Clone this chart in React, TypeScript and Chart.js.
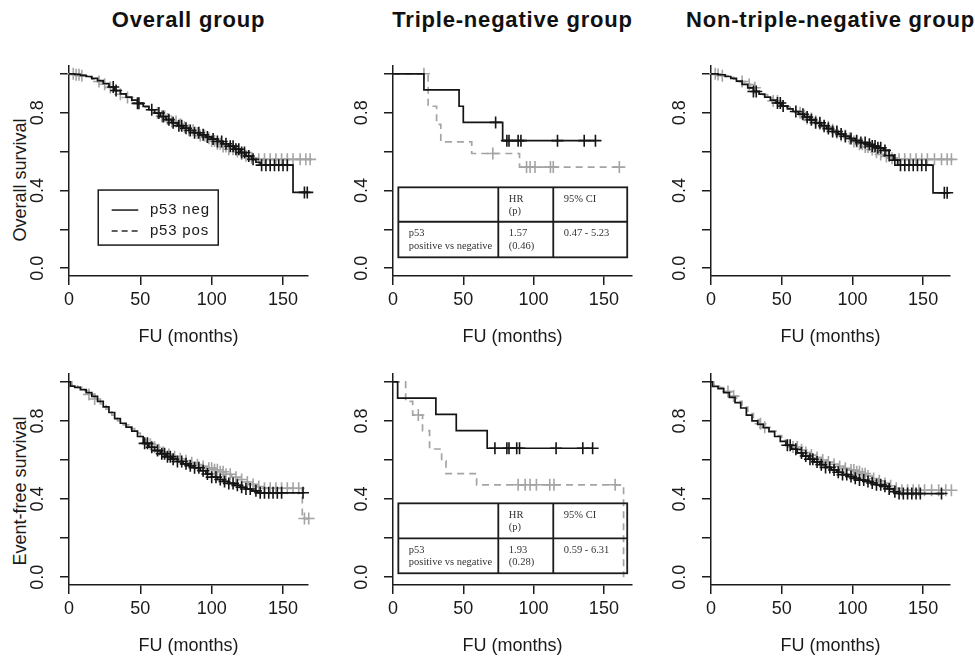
import React, { useEffect, useRef } from "react";
import { Chart, registerables } from "chart.js";

Chart.register(...registerables);

// ---------------- text ----------------
const COLUMN_TITLES = ["Overall group", "Triple-negative group", "Non-triple-negative group"];
const ROW_TITLES = ["Overall survival", "Event-free survival"];
const X_TITLE = "FU (months)";
const LEGEND_LABELS = ["p53 neg", "p53 pos"];
const TABLE_HEAD_HR = ["HR", "(p)"];
const TABLE_HEAD_CI = "95% CI";
const TABLE_ROW_LABEL = ["p53", "positive vs negative"];
const TN_OS_HR = ["1.57", "(0.46)"];
const TN_OS_CI = "0.47 - 5.23";
const TN_EFS_HR = ["1.93", "(0.28)"];
const TN_EFS_CI = "0.59 - 6.31";

// ---------------- axis ticks ----------------
const X_TICKS = [0, 50, 100, 150];
const Y_TICKS = [0, 0.2, 0.4, 0.6, 0.8, 1.0];
const Y_TICK_LABELS = ["0.0", "", "0.4", "", "0.8", ""];

// ---------------- data: Overall group, overall survival ----------------
const OS_ALL_NEG_T = [0, 4, 8, 12, 16, 20, 24, 28, 32, 36, 40, 44, 48, 52, 56, 60, 64, 68, 72, 76, 80, 84, 88, 92, 96, 100, 104, 108, 112, 116, 120, 124, 128, 131, 134, 157, 167];
const OS_ALL_NEG_S = [1, 0.997, 0.992, 0.986, 0.976, 0.965, 0.95, 0.932, 0.914, 0.897, 0.88, 0.864, 0.848, 0.832, 0.815, 0.798, 0.78, 0.764, 0.748, 0.733, 0.72, 0.708, 0.697, 0.686, 0.675, 0.664, 0.652, 0.64, 0.627, 0.612, 0.595, 0.577, 0.56, 0.545, 0.53, 0.39, 0.39];
const OS_ALL_NEG_CENS = [31, 33, 48, 49, 58, 63, 66, 70, 73, 77, 79, 82, 85, 88, 91, 94, 97, 101, 104, 107, 110, 113, 115, 117, 119, 121, 123, 126, 129, 135, 138, 141, 144, 147, 150, 153, 165, 167];
const OS_ALL_POS_T = [0, 4, 8, 12, 16, 20, 24, 28, 32, 36, 40, 44, 48, 52, 56, 60, 64, 68, 72, 76, 80, 84, 88, 92, 96, 100, 104, 108, 112, 116, 120, 124, 128, 132, 169];
const OS_ALL_POS_S = [1, 0.995, 0.99, 0.982, 0.972, 0.96, 0.946, 0.93, 0.912, 0.895, 0.878, 0.862, 0.846, 0.83, 0.814, 0.798, 0.782, 0.768, 0.754, 0.74, 0.725, 0.71, 0.696, 0.682, 0.668, 0.654, 0.64, 0.626, 0.612, 0.6, 0.588, 0.578, 0.568, 0.56, 0.56];
const OS_ALL_POS_CENS = [3, 5, 7, 9, 21, 25, 29, 36, 41, 62, 65, 67, 69, 72, 75, 78, 81, 84, 87, 90, 92, 95, 98, 100, 102, 104, 106, 108, 110, 112, 115, 118, 121, 124, 128, 133, 137, 141, 145, 149, 153, 157, 162, 166, 169];

// ---------------- data: Triple-negative group, overall survival ----------------
const OS_TN_NEG_T = [0, 22, 47, 50, 78, 144];
const OS_TN_NEG_S = [1, 0.917, 0.833, 0.75, 0.656, 0.656];
const OS_TN_NEG_CENS = [73, 81, 82.5, 89, 91, 117, 136, 144];
const OS_TN_POS_T = [0, 25, 31, 34, 56, 90, 161];
const OS_TN_POS_S = [1, 0.833, 0.74, 0.65, 0.59, 0.52, 0.52];
const OS_TN_POS_CENS = [22, 71, 95, 97.5, 101, 112, 114, 161];

// ---------------- data: Non-triple-negative group, overall survival ----------------
const OS_NTN_NEG_T = [0, 5, 10, 14, 18, 22, 26, 30, 34, 38, 42, 46, 50, 54, 58, 62, 66, 70, 74, 78, 82, 86, 90, 94, 98, 102, 106, 110, 114, 118, 122, 126, 129, 132, 157, 168];
const OS_NTN_NEG_S = [1, 0.995, 0.986, 0.976, 0.962, 0.946, 0.928, 0.909, 0.895, 0.88, 0.865, 0.85, 0.834, 0.82, 0.806, 0.792, 0.778, 0.763, 0.748, 0.733, 0.718, 0.703, 0.69, 0.678, 0.667, 0.656, 0.646, 0.637, 0.628, 0.619, 0.606, 0.58, 0.556, 0.53, 0.388, 0.388];
const OS_NTN_NEG_CENS = [30, 32, 47, 49, 51, 60, 65, 68, 71, 74, 77, 80, 83, 86, 89, 92, 95, 99, 103, 106, 109, 112, 114, 116, 118, 120, 123, 126, 130, 134, 137, 140, 143, 146, 149, 152, 165, 167];
const OS_NTN_POS_T = [0, 4, 8, 12, 16, 20, 24, 28, 32, 36, 40, 44, 48, 52, 56, 60, 64, 68, 72, 76, 80, 84, 88, 92, 96, 100, 104, 108, 112, 116, 120, 124, 128, 132, 170];
const OS_NTN_POS_S = [1, 0.996, 0.99, 0.982, 0.972, 0.96, 0.945, 0.928, 0.91, 0.893, 0.876, 0.86, 0.845, 0.83, 0.815, 0.8, 0.785, 0.77, 0.756, 0.742, 0.727, 0.712, 0.697, 0.682, 0.667, 0.652, 0.638, 0.624, 0.61, 0.597, 0.585, 0.575, 0.566, 0.56, 0.56];
const OS_NTN_POS_CENS = [3, 5, 8, 22, 27, 31, 44, 47, 63, 66, 68, 71, 74, 77, 80, 83, 86, 89, 92, 95, 98, 101, 103, 105, 107, 109, 111, 114, 117, 120, 124, 128, 133, 137, 141, 145, 149, 153, 158, 163, 167, 170];

// ---------------- data: Overall group, event-free survival ----------------
const EFS_ALL_NEG_T = [0, 1, 4, 8, 12, 16, 20, 24, 28, 32, 36, 40, 44, 48, 52, 56, 60, 64, 68, 72, 76, 80, 84, 88, 92, 96, 100, 104, 108, 112, 116, 120, 124, 128, 132, 165];
const EFS_ALL_NEG_S = [1, 0.978, 0.972, 0.96, 0.945, 0.925, 0.9, 0.872, 0.843, 0.812, 0.788, 0.768, 0.748, 0.72, 0.685, 0.665, 0.648, 0.632, 0.617, 0.604, 0.592, 0.58, 0.57, 0.56, 0.545, 0.528, 0.512, 0.5, 0.49, 0.48, 0.47, 0.46, 0.451, 0.442, 0.432, 0.432];
const EFS_ALL_NEG_CENS = [53, 55, 58, 62, 65, 67, 69, 71, 73, 76, 79, 82, 85, 88, 91, 94, 97, 100, 103, 106, 109, 112, 115, 118, 121, 124, 127, 131, 134, 137, 140, 143, 146, 149, 164];
const EFS_ALL_POS_T = [0, 2, 6, 10, 14, 18, 22, 26, 30, 34, 38, 42, 46, 50, 54, 58, 62, 66, 70, 74, 78, 82, 86, 90, 94, 98, 102, 106, 110, 114, 118, 122, 126, 130, 134, 163.5, 168];
const EFS_ALL_POS_S = [1, 0.985, 0.972, 0.955, 0.935, 0.912, 0.887, 0.86, 0.83, 0.8, 0.78, 0.76, 0.737, 0.705, 0.68, 0.665, 0.652, 0.64, 0.628, 0.617, 0.606, 0.596, 0.586, 0.576, 0.567, 0.558, 0.55, 0.54, 0.527, 0.512, 0.5, 0.487, 0.475, 0.464, 0.455, 0.3, 0.3];
const EFS_ALL_POS_CENS = [14, 18, 57, 60, 63, 66, 70, 74, 78, 82, 86, 90, 94, 98, 100, 102, 104, 106, 108, 110, 113, 117, 121, 125, 129, 133, 137, 141, 145, 149, 153, 157, 161, 165, 168];

// ---------------- data: Triple-negative group, event-free survival ----------------
const EFS_TN_NEG_T = [0, 3.3, 30.5, 45, 67, 142];
const EFS_TN_NEG_S = [1, 0.917, 0.833, 0.75, 0.66, 0.66];
const EFS_TN_NEG_CENS = [72.5, 81, 82.5, 88, 90, 116, 135, 142];
const EFS_TN_POS_T = [0, 9, 14, 21, 26, 34.6, 37.7, 59.5, 164];
const EFS_TN_POS_S = [1, 0.9, 0.83, 0.75, 0.656, 0.595, 0.53, 0.473, 0];
const EFS_TN_POS_CENS = [18, 89, 94, 97.5, 102, 111.5, 114.5, 158];

// ---------------- data: Non-triple-negative group, event-free survival ----------------
const EFS_NTN_NEG_T = [0, 1, 5, 9, 13, 17, 21, 25, 29, 33, 37, 41, 45, 49, 53, 57, 61, 65, 69, 73, 77, 81, 85, 89, 93, 97, 101, 105, 109, 113, 117, 121, 125, 129, 133, 165];
const EFS_NTN_NEG_S = [1, 0.977, 0.965, 0.945, 0.92, 0.893, 0.866, 0.83, 0.8, 0.782, 0.765, 0.745, 0.72, 0.695, 0.675, 0.655, 0.636, 0.62, 0.604, 0.59, 0.576, 0.562, 0.549, 0.537, 0.525, 0.515, 0.506, 0.497, 0.49, 0.482, 0.473, 0.465, 0.452, 0.437, 0.428, 0.428];
const EFS_NTN_NEG_CENS = [54, 56, 60, 64, 67, 70, 72, 75, 78, 81, 84, 87, 90, 93, 96, 99, 102, 105, 108, 111, 114, 117, 120, 123, 126, 130, 133, 136, 139, 142, 145, 148, 163];
const EFS_NTN_POS_T = [0, 2, 6, 10, 14, 18, 22, 26, 30, 34, 38, 42, 46, 50, 54, 58, 62, 66, 70, 74, 78, 82, 86, 90, 94, 98, 102, 106, 110, 114, 118, 122, 126, 130, 134, 170];
const EFS_NTN_POS_S = [1, 0.985, 0.97, 0.95, 0.927, 0.9, 0.87, 0.837, 0.807, 0.785, 0.767, 0.748, 0.725, 0.7, 0.682, 0.666, 0.652, 0.638, 0.625, 0.612, 0.6, 0.589, 0.578, 0.567, 0.557, 0.548, 0.54, 0.53, 0.518, 0.505, 0.493, 0.48, 0.468, 0.455, 0.445, 0.445];
const EFS_NTN_POS_CENS = [12, 16, 35, 38, 58, 61, 64, 67, 71, 75, 79, 83, 87, 91, 95, 99, 101, 103, 105, 107, 109, 111, 115, 119, 123, 127, 131, 135, 139, 143, 147, 151, 156, 161, 166, 170];

// ---------------- layout / style ----------------
const FONT = "'Liberation Sans', Arial, Helvetica, sans-serif";
const SERIF = "'Liberation Serif', 'Times New Roman', serif";
const AX = "#1c1c1c";
const BLACK = "#141414";
const GRAY = "#a4a4a4";
const TEXT = "#1a1a1a";

const COL_LEFT = [0, 325, 650];
const COL_W = 325;
const AXIS_LEFT = [69, 393, 711];
const PLOT_W = 239;
const X_MAX = [167.5, 170, 169];
const ROW_TOP = [40, 350];
const ROW_H = [310, 309];
const PLOT_TOP = [66, 374];
const PLOT_BOTTOM = [276, 585];
const Y_MIN = -0.04;
const Y_MAX = 1.04;

// legend box (data units of panel 1)
const LEGEND_BOX = { x0: 20.5, x1: 104.6, y0: 0.402, y1: 0.119 };
// HR tables (data units)
const TABLE_X = { x0: 3.8, xa: 74.9, xb: 114, x1: 166.6 };
const TABLE_Y_OS = { top: 0.416, mid: 0.239, bot: 0.056 };
const TABLE_Y_EFS = { top: 0.378, mid: 0.199, bot: 0.02 };

type Curve = { t: number[]; s: number[]; cens: number[] };
type TableCfg = { y: { top: number; mid: number; bot: number }; hr: string[]; ci: string };
type PanelCfg = { col: number; row: number; neg: Curve; pos: Curve; legend?: boolean; table?: TableCfg };

const PANELS: PanelCfg[] = [
  { col: 0, row: 0, neg: { t: OS_ALL_NEG_T, s: OS_ALL_NEG_S, cens: OS_ALL_NEG_CENS }, pos: { t: OS_ALL_POS_T, s: OS_ALL_POS_S, cens: OS_ALL_POS_CENS }, legend: true },
  { col: 1, row: 0, neg: { t: OS_TN_NEG_T, s: OS_TN_NEG_S, cens: OS_TN_NEG_CENS }, pos: { t: OS_TN_POS_T, s: OS_TN_POS_S, cens: OS_TN_POS_CENS }, table: { y: TABLE_Y_OS, hr: TN_OS_HR, ci: TN_OS_CI } },
  { col: 2, row: 0, neg: { t: OS_NTN_NEG_T, s: OS_NTN_NEG_S, cens: OS_NTN_NEG_CENS }, pos: { t: OS_NTN_POS_T, s: OS_NTN_POS_S, cens: OS_NTN_POS_CENS } },
  { col: 0, row: 1, neg: { t: EFS_ALL_NEG_T, s: EFS_ALL_NEG_S, cens: EFS_ALL_NEG_CENS }, pos: { t: EFS_ALL_POS_T, s: EFS_ALL_POS_S, cens: EFS_ALL_POS_CENS } },
  { col: 1, row: 1, neg: { t: EFS_TN_NEG_T, s: EFS_TN_NEG_S, cens: EFS_TN_NEG_CENS }, pos: { t: EFS_TN_POS_T, s: EFS_TN_POS_S, cens: EFS_TN_POS_CENS }, table: { y: TABLE_Y_EFS, hr: TN_EFS_HR, ci: TN_EFS_CI } },
  { col: 2, row: 1, neg: { t: EFS_NTN_NEG_T, s: EFS_NTN_NEG_S, cens: EFS_NTN_NEG_CENS }, pos: { t: EFS_NTN_POS_T, s: EFS_NTN_POS_S, cens: EFS_NTN_POS_CENS } },
];

// value of the step curve at time x (for placing censor marks on the curve)
function stepAt(t: number[], s: number[], x: number): number {
  let v = s[0];
  for (let i = 0; i < t.length; i++) if (t[i] <= x) v = s[i];
  return v;
}

function curvePoints(c: Curve) {
  return c.t.map((x, i) => ({ x, y: c.s[i] }));
}
function censorPoints(c: Curve) {
  return c.cens.map((x) => ({ x, y: stepAt(c.t, c.s, x) }));
}

const legendPlugin = {
  id: "kmLegend",
  afterDatasetsDraw(chart: any) {
    const { ctx, scales } = chart;
    const l = scales.x.getPixelForValue(LEGEND_BOX.x0);
    const r = scales.x.getPixelForValue(LEGEND_BOX.x1);
    const t = scales.y.getPixelForValue(LEGEND_BOX.y0);
    const b = scales.y.getPixelForValue(LEGEND_BOX.y1);
    ctx.save();
    ctx.strokeStyle = AX;
    ctx.lineWidth = 1.5;
    ctx.strokeRect(l, t, r - l, b - t);
    const rows = [
      { label: LEGEND_LABELS[0], dash: [] as number[], dy: 20 },
      { label: LEGEND_LABELS[1], dash: [6, 4], dy: 41 },
    ];
    rows.forEach((row) => {
      ctx.setLineDash(row.dash);
      ctx.strokeStyle = "#2a2a2a";
      ctx.lineWidth = 1.6;
      ctx.beginPath();
      ctx.moveTo(l + 13.4, t + row.dy);
      ctx.lineTo(l + 40, t + row.dy);
      ctx.stroke();
      ctx.setLineDash([]);
      ctx.font = `15px ${FONT}`;
      try { (ctx as any).letterSpacing = "0.8px"; } catch (e) {}
      ctx.fillStyle = TEXT;
      ctx.textBaseline = "middle";
      ctx.textAlign = "left";
      ctx.fillText(row.label, l + 51.7, t + row.dy);
    });
    ctx.restore();
  },
};

function makeTablePlugin(cfg: TableCfg) {
  return {
    id: "hrTable",
    afterDatasetsDraw(chart: any) {
      const { ctx, scales } = chart;
      const x0 = scales.x.getPixelForValue(TABLE_X.x0);
      const xa = scales.x.getPixelForValue(TABLE_X.xa);
      const xb = scales.x.getPixelForValue(TABLE_X.xb);
      const x1 = scales.x.getPixelForValue(TABLE_X.x1);
      const yt = scales.y.getPixelForValue(cfg.y.top);
      const ym = scales.y.getPixelForValue(cfg.y.mid);
      const yb = scales.y.getPixelForValue(cfg.y.bot);
      ctx.save();
      ctx.strokeStyle = AX;
      ctx.lineWidth = 1.8;
      ctx.strokeRect(x0, yt, x1 - x0, yb - yt);
      ctx.beginPath();
      ctx.moveTo(x0, ym); ctx.lineTo(x1, ym);
      ctx.moveTo(xa, yt); ctx.lineTo(xa, yb);
      ctx.moveTo(xb, yt); ctx.lineTo(xb, yb);
      ctx.stroke();
      ctx.font = `10.5px ${SERIF}`;
      ctx.fillStyle = "#333";
      ctx.textBaseline = "middle";
      ctx.textAlign = "left";
      const put = (lines: string[], x: number, y: number) => {
        lines.forEach((s, i) => ctx.fillText(s, x + 10.5, y + 11.5 + i * 12.8));
      };
      put(TABLE_HEAD_HR, xa, yt);
      put([TABLE_HEAD_CI], xb, yt);
      put(TABLE_ROW_LABEL, x0, ym);
      put(cfg.hr, xa, ym);
      put([cfg.ci], xb, ym);
      ctx.restore();
    },
  };
}

function Panel({ cfg }: { cfg: PanelCfg }) {
  const ref = useRef<HTMLCanvasElement | null>(null);
  const { col, row } = cfg;
  const w = COL_W;
  const h = ROW_H[row];
  useEffect(() => {
    if (!ref.current) return;
    const yW = AXIS_LEFT[col] - COL_LEFT[col];
    const padTop = PLOT_TOP[row] - ROW_TOP[row];
    const xH = ROW_TOP[row] + ROW_H[row] - PLOT_BOTTOM[row];
    const padRight = COL_W - yW - PLOT_W;
    const plugins: any[] = [];
    if (cfg.legend) plugins.push(legendPlugin);
    if (cfg.table) plugins.push(makeTablePlugin(cfg.table));
    const tickFont = { family: FONT, size: 18 };
    const chart = new Chart(ref.current, {
      type: "line",
      data: {
        datasets: [
          { data: curvePoints(cfg.neg), borderColor: BLACK, borderWidth: 1.7, stepped: "before", pointRadius: 0, fill: false, clip: false } as any,
          { data: censorPoints(cfg.neg), showLine: false, pointStyle: "cross", pointRadius: 6, pointBorderWidth: 1.6, pointBorderColor: BLACK, borderColor: BLACK, clip: false } as any,
          { data: curvePoints(cfg.pos), borderColor: GRAY, borderWidth: 1.7, borderDash: [7, 5], stepped: "before", pointRadius: 0, fill: false, clip: false } as any,
          { data: censorPoints(cfg.pos), showLine: false, pointStyle: "cross", pointRadius: 6, pointBorderWidth: 1.6, pointBorderColor: GRAY, borderColor: GRAY, clip: false } as any,
        ],
      },
      options: {
        animation: false,
        responsive: false,
        events: [],
        layout: { padding: { left: 0, top: padTop, right: padRight, bottom: 0 } },
        plugins: { legend: { display: false }, tooltip: { enabled: false }, title: { display: false } },
        scales: {
          x: {
            type: "linear",
            position: "bottom",
            min: 0,
            max: X_MAX[col],
            afterBuildTicks: (s: any) => { s.ticks = X_TICKS.map((v) => ({ value: v })); },
            afterFit: (s: any) => { s.height = xH; },
            grid: { drawOnChartArea: false, drawTicks: true, tickLength: 9, color: AX, lineWidth: 1.5 },
            border: { display: true, color: AX, width: 1.5 },
            ticks: { font: tickFont, color: TEXT, padding: 4, autoSkip: false, maxRotation: 0, callback: (v: any) => String(v) },
            title: { display: true, text: X_TITLE, font: tickFont, color: TEXT, padding: { top: 0, bottom: 2 } },
          },
          y: {
            type: "linear",
            position: "left",
            min: Y_MIN,
            max: Y_MAX,
            afterBuildTicks: (s: any) => { s.ticks = Y_TICKS.map((v) => ({ value: v })); },
            afterFit: (s: any) => { s.width = yW; },
            grid: { drawOnChartArea: false, drawTicks: true, tickLength: 9, color: AX, lineWidth: 1.5 },
            border: { display: true, color: AX, width: 1.5 },
            ticks: { font: tickFont, color: TEXT, padding: 9, autoSkip: false, minRotation: 90, maxRotation: 90, crossAlign: "center", callback: (_v: any, i: number) => Y_TICK_LABELS[i] },
          },
        },
      } as any,
      plugins,
    });
    return () => chart.destroy();
  }, []);
  return (
    <canvas
      ref={ref}
      width={w}
      height={h}
      style={{ position: "absolute", left: COL_LEFT[col], top: ROW_TOP[row], width: w, height: h }}
    />
  );
}

export default function App() {
  return (
    <div style={{ position: "absolute", left: 0, top: 0, width: 975, height: 659, overflow: "hidden", background: "#fff" }}>
      {COLUMN_TITLES.map((t, i) => (
        <div
          key={t}
          style={{
            position: "absolute",
            left: AXIS_LEFT[i] + PLOT_W / 2 - 250,
            top: 9,
            width: 500,
            textAlign: "center",
            fontFamily: FONT,
            fontWeight: "bold",
            fontSize: 22,
            lineHeight: "22px",
            letterSpacing: "0.8px",
            whiteSpace: "nowrap",
            color: "#111",
          }}
        >
          {t}
        </div>
      ))}
      {ROW_TITLES.map((t, i) => (
        <div
          key={t}
          style={{
            position: "absolute",
            left: 20 - 100,
            top: (i === 0 ? 179.5 : 491) - 11,
            width: 200,
            height: 22,
            lineHeight: "22px",
            textAlign: "center",
            fontFamily: FONT,
            fontSize: 18,
            color: TEXT,
            whiteSpace: "nowrap",
            transform: "rotate(-90deg)",
          }}
        >
          {t}
        </div>
      ))}
      {PANELS.map((p, i) => (
        <Panel key={i} cfg={p} />
      ))}
    </div>
  );
}
